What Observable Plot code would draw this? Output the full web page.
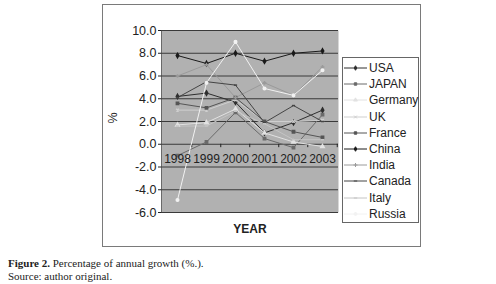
<!DOCTYPE html>
<html><head><meta charset="utf-8">
<script src="https://cdn.jsdelivr.net/npm/d3@7"></script>
<script src="https://cdn.jsdelivr.net/npm/@observablehq/plot@0.6"></script>
<style>
body{margin:0;background:#fff;width:496px;height:284px;overflow:hidden;position:relative;font-family:"Liberation Sans",Arial,sans-serif}
#box{position:absolute;left:102px;top:4px;width:317px;height:241px;border:1px solid #7a7a7a}
#chart{position:absolute;left:0;top:0}
#pct{position:absolute;left:107px;top:111px;font-size:12.5px;color:#222;transform:rotate(-90deg);transform-origin:center}
#legend{position:absolute;left:342px;top:57px;width:75px;height:164px;border:1px solid #666;background:#fff}
.lr{position:absolute;left:0;height:14px;display:flex;align-items:center;font-size:12px;color:#222;white-space:nowrap}
.lr svg{margin-right:1px}
#cap{position:absolute;left:8px;top:257px;font-family:"Liberation Serif","DejaVu Serif",serif;font-size:11px;line-height:12.5px;color:#222}
</style></head><body>
<div id="box"></div>
<div id="chart"></div>
<div id="pct">%</div>
<div id="legend"></div>
<div id="cap"><b>Figure 2.</b> Percentage of annual growth (%.).<br>Source: author original.</div>
<script>
const years = ["1998","1999","2000","2001","2002","2003"];
const names = ["USA","JAPAN","Germany","UK","France","China","India","Canada","Italy","Russia"];
const usa     = [4.2, 4.5, 3.7, 1.0, 1.9, 3.0];
const japan   = [-1.0, 0.2, 2.8, 0.5, -0.3, 2.6];
const germany = [1.7, 1.9, 3.1, 1.0, 0.2, -0.2];
const uk      = [3.0, 3.0, 3.9, 2.0, 2.0, 2.1];
const france  = [3.6, 3.2, 4.1, 2.0, 1.1, 0.6];
const china   = [7.8, 7.1, 8.0, 7.3, 8.0, 8.2];
const india   = [6.0, 7.0, 4.1, 5.4, 4.3, 6.8];
const canada  = [4.1, 5.5, 5.2, 1.9, 3.4, 2.0];
const italy   = [1.6, 1.6, 2.9, 1.8, 0.4, 0.4];
const russia  = [-4.9, 5.4, 9.0, 4.9, 4.3, 6.5];
const yTicks = [-6, -4, -2, 0, 2, 4, 6, 8, 10];

const seriesValues = [usa, japan, germany, uk, france, china, india, canada, italy, russia];
const colors = ["#2e2e2e","#6a6a6a","#e2e2e2","#cfcfcf","#555555","#1a1a1a","#9a9a9a","#444444","#c4c4c4","#f2f2f2"];
const dash = {draw(ctx, size){const r = Math.sqrt(size) * 0.7; ctx.moveTo(-r, 0); ctx.lineTo(r, 0);}};
const symbols = [d3.symbolDiamond, d3.symbolSquare, d3.symbolTriangle, d3.symbolTimes, d3.symbolSquare,
                 d3.symbolDiamond, d3.symbolPlus, dash, dash, d3.symbolCircle];

const rows = names.flatMap((n, i) => years.map((y, j) => ({name: n, year: y, value: seriesValues[i][j]})));

const plot = Plot.plot({
  width: 496, height: 250,
  marginLeft: 161, marginRight: 158, marginTop: 30, marginBottom: 38,
  style: {background: "transparent", fontFamily: "'Liberation Sans', Arial, sans-serif", fontSize: "12.5px", color: "#222"},
  x: {type: "point", domain: years, padding: 0.5, axis: null},
  y: {domain: [-6, 10], ticks: yTicks, tickFormat: d => d.toFixed(1), tickSize: 3, tickPadding: 2, line: true, label: null},
  color: {domain: names, range: colors},
  symbol: {domain: names, range: symbols},
  marks: [
    Plot.frame({fill: "#b1b1b1", stroke: null}),
    Plot.ruleY(yTicks, {stroke: "#3a3a3a", strokeWidth: 1}),
    Plot.ruleX(years.slice(1), {x: d => d, y1: 0, y2: -0.3, dx: -14.75, stroke: "#222"}),
    Plot.ruleX(years.slice(5), {x: d => d, y1: 0, y2: -0.3, dx: 14.75, stroke: "#222"}),
    Plot.line(rows, {x: "year", y: "value", z: "name", stroke: "name", strokeWidth: 1}),
    Plot.dot(rows, {x: "year", y: "value", symbol: "name", fill: "name", stroke: "name", r: 1.3}),
    Plot.text(years, {x: d => d, y: 0, dy: 15, fill: "#222", fontSize: 12}),
    Plot.text(["YEAR"], {frameAnchor: "bottom", dy: 20, fontWeight: "bold", fontSize: 12, fill: "#222"})
  ]
});
document.getElementById("chart").appendChild(plot);

// legend
const leg = d3.select("#legend");
names.forEach((n, i) => {
  const row = leg.append("div").attr("class", "lr").style("top", (3 + i * 16.2) + "px");
  const s = row.append("svg").attr("width", 25).attr("height", 10);
  s.append("line").attr("x1", 1).attr("x2", 24).attr("y1", 5).attr("y2", 5).attr("stroke", colors[i]).attr("stroke-width", 1);
  s.append("path").attr("transform", "translate(12.5,5)")
    .attr("d", d3.symbol(symbols[i], 6)())
    .attr("fill", colors[i]).attr("stroke", colors[i]);
  row.append("span").text(n);
});
</script>
</body></html>
